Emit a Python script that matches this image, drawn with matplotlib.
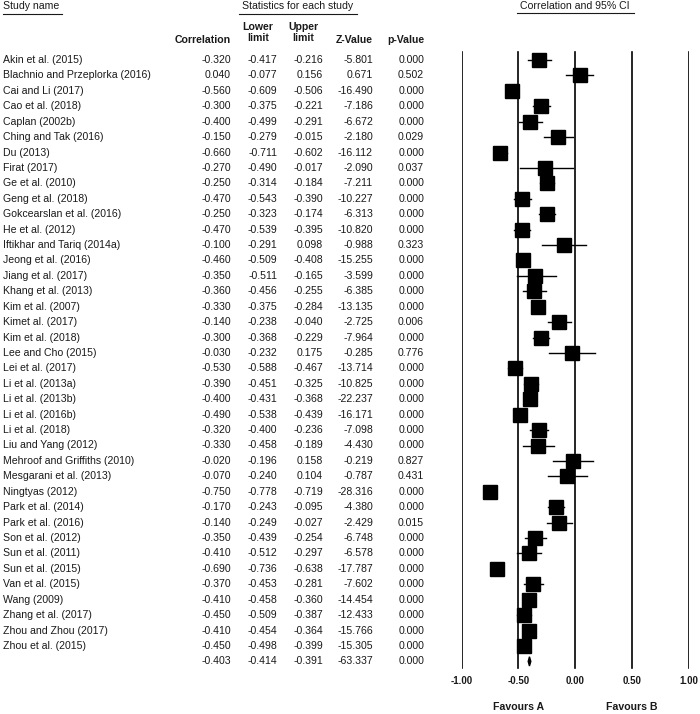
import matplotlib
matplotlib.use('Agg')
import matplotlib.pyplot as plt
import matplotlib.transforms as mtransforms

plt.rcParams['font.family'] = ['Liberation Sans', 'DejaVu Sans']

studies = [
    "Akin et al. (2015)", "Blachnio and Przeplorka (2016)", "Cai and Li (2017)",
    "Cao et al. (2018)", "Caplan (2002b)", "Ching and Tak (2016)", "Du (2013)",
    "Firat (2017)", "Ge et al. (2010)", "Geng et al. (2018)",
    "Gokcearslan et al. (2016)", "He et al. (2012)", "Iftikhar and Tariq (2014a)",
    "Jeong et al. (2016)", "Jiang et al. (2017)", "Khang et al. (2013)",
    "Kim et al. (2007)", "Kimet al. (2017)", "Kim et al. (2018)",
    "Lee and Cho (2015)", "Lei et al. (2017)", "Li et al. (2013a)",
    "Li et al. (2013b)", "Li et al. (2016b)", "Li et al. (2018)",
    "Liu and Yang (2012)", "Mehroof and Griffiths (2010)",
    "Mesgarani et al. (2013)", "Ningtyas (2012)", "Park et al. (2014)",
    "Park et al. (2016)", "Son et al. (2012)", "Sun et al. (2011)",
    "Sun et al. (2015)", "Van et al. (2015)", "Wang (2009)",
    "Zhang et al. (2017)", "Zhou and Zhou (2017)", "Zhou et al. (2015)",
]
correlation = [-0.320, 0.040, -0.560, -0.300, -0.400, -0.150, -0.660, -0.270,
               -0.250, -0.470, -0.250, -0.470, -0.100, -0.460, -0.350, -0.360,
               -0.330, -0.140, -0.300, -0.030, -0.530, -0.390, -0.400, -0.490,
               -0.320, -0.330, -0.020, -0.070, -0.750, -0.170, -0.140, -0.350,
               -0.410, -0.690, -0.370, -0.410, -0.450, -0.410, -0.450]
lower = [-0.417, -0.077, -0.609, -0.375, -0.499, -0.279, -0.711, -0.490,
         -0.314, -0.543, -0.323, -0.539, -0.291, -0.509, -0.511, -0.456,
         -0.375, -0.238, -0.368, -0.232, -0.588, -0.451, -0.431, -0.538,
         -0.400, -0.458, -0.196, -0.240, -0.778, -0.243, -0.249, -0.439,
         -0.512, -0.736, -0.453, -0.458, -0.509, -0.454, -0.498]
upper = [-0.216, 0.156, -0.506, -0.221, -0.291, -0.015, -0.602, -0.017,
         -0.184, -0.390, -0.174, -0.395, 0.098, -0.408, -0.165, -0.255,
         -0.284, -0.040, -0.229, 0.175, -0.467, -0.325, -0.368, -0.439,
         -0.236, -0.189, 0.158, 0.104, -0.719, -0.095, -0.027, -0.254,
         -0.297, -0.638, -0.281, -0.360, -0.387, -0.364, -0.399]
z_value = [-5.801, 0.671, -16.490, -7.186, -6.672, -2.180, -16.112, -2.090,
           -7.211, -10.227, -6.313, -10.820, -0.988, -15.255, -3.599, -6.385,
           -13.135, -2.725, -7.964, -0.285, -13.714, -10.825, -22.237, -16.171,
           -7.098, -4.430, -0.219, -0.787, -28.316, -4.380, -2.429, -6.748,
           -6.578, -17.787, -7.602, -14.454, -12.433, -15.766, -15.305]
p_value = [0.000, 0.502, 0.000, 0.000, 0.000, 0.029, 0.000, 0.037, 0.000,
           0.000, 0.000, 0.000, 0.323, 0.000, 0.000, 0.000, 0.000, 0.006,
           0.000, 0.776, 0.000, 0.000, 0.000, 0.000, 0.000, 0.000, 0.827,
           0.431, 0.000, 0.000, 0.015, 0.000, 0.000, 0.000, 0.000, 0.000,
           0.000, 0.000, 0.000]
summary = [-0.403, -0.414, -0.391, -63.337, 0.000]
ticks = [-1.0, -0.5, 0.0, 0.5, 1.0]

W, H = 700, 714
fig = plt.figure(figsize=(W / 100, H / 100), dpi=100)
row_h = 15.42
top_px = 60
ax = fig.add_axes([461.7 / W, 0, (688.7 - 461.7) / W, 1])
ax.set_xlim(-1, 1)
ax.set_ylim((H - top_px) / row_h, -top_px / row_h)
ax.axis('off')

blend = mtransforms.blended_transform_factory(fig.transFigure, ax.transData)
fs = 7.6
col = '#1a1a1a'

def px(x):
    return x / W

# headers
ax.text(px(3), -3.5, "Study name", transform=blend, fontsize=fs, color=col, va='center')
ax.plot([px(3), px(62)], [-3.0, -3.0], transform=blend, color=col, lw=0.8, clip_on=False)
ax.text(px(298), -3.5, "Statistics for each study", transform=blend, fontsize=fs,
        color=col, va='center', ha='center')
ax.plot([px(239), px(357)], [-3.0, -3.0], transform=blend, color=col, lw=0.8, clip_on=False)
ax.text(0, -3.5, "Correlation and 95% CI", fontsize=fs, color=col, va='center', ha='center')
ax.plot([px(517), px(634)], [-3.05, -3.05], transform=blend, color=col, lw=0.8, clip_on=False)

ax.text(px(231), -1.3, "Correlation", transform=blend, fontsize=fs, color=col,
        va='center', ha='right', fontweight='bold')
ax.text(px(258), -1.78, "Lower\nlimit", transform=blend, fontsize=fs, color=col,
        va='center', ha='center', fontweight='bold', linespacing=1.2)
ax.text(px(303), -1.78, "Upper\nlimit", transform=blend, fontsize=fs, color=col,
        va='center', ha='center', fontweight='bold', linespacing=1.2)
ax.text(px(373), -1.3, "Z-Value", transform=blend, fontsize=fs, color=col,
        va='center', ha='right', fontweight='bold')
ax.text(px(424), -1.3, "p-Value", transform=blend, fontsize=fs, color=col,
        va='center', ha='right', fontweight='bold')

# table rows
for i, name in enumerate(studies):
    ax.text(px(3), i, name, transform=blend, fontsize=fs, color=col, va='center')
    vals = [correlation[i], lower[i], upper[i], z_value[i], p_value[i]]
    for x, v in zip([231, 277.5, 323, 373, 424], vals):
        ax.text(px(x), i, "%.3f" % v, transform=blend, fontsize=fs, color=col,
                va='center', ha='right')
    ax.plot([lower[i], upper[i]], [i, i], color='black', lw=1.0)
    ax.plot(correlation[i], i, marker='s', color='black', markersize=9.4)

n = len(studies)
for x, v in zip([231, 277.5, 323, 373, 424], summary):
    ax.text(px(x), n, "%.3f" % v, transform=blend, fontsize=fs, color=col,
            va='center', ha='right')
h = 0.3
ax.fill([summary[1], summary[0], summary[2], summary[0]],
        [n, n - h, n, n + h], color='black')

# reference lines and tick labels
for t in ticks:
    ax.plot([t, t], [-0.52, 39.4], color='black', lw=1.2)
    ax.text(t, 40.3, "%.2f" % t, fontsize=fs - 0.6, color=col, ha='center',
            va='center', fontweight='bold')
ax.text(-0.5, 41.95, "Favours A", fontsize=fs, color=col, ha='center', va='center',
        fontweight='bold')
ax.text(0.5, 41.95, "Favours B", fontsize=fs, color=col, ha='center', va='center',
        fontweight='bold')

fig.savefig("out.png", dpi=100)
